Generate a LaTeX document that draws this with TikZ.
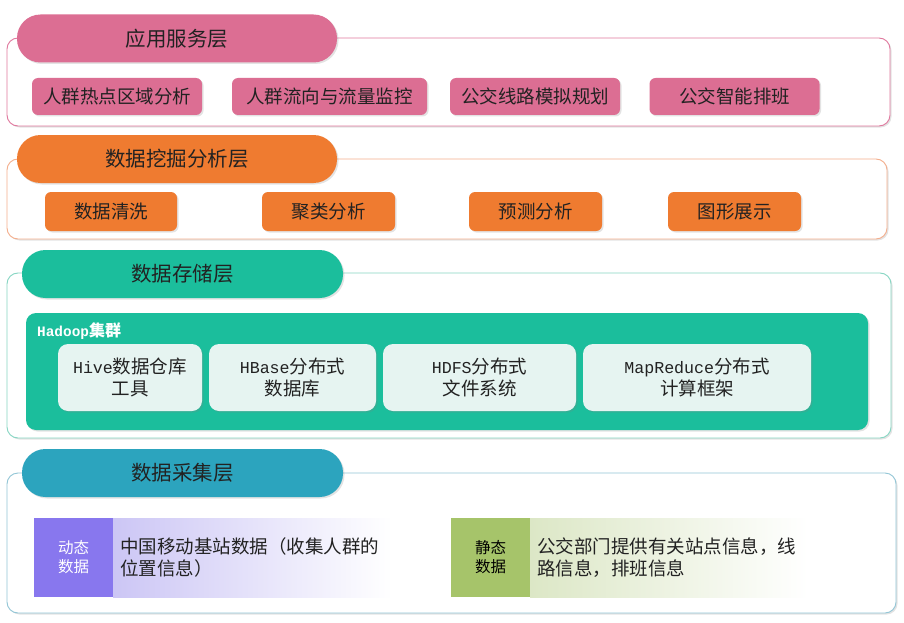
\documentclass[tikz,border=0pt]{standalone}
\usepackage{fontspec}
\setmainfont{Noto Sans CJK SC}
\newfontfamily\mono[Scale=0.9]{Liberation Mono}
\usetikzlibrary{shadows}
\definecolor{pinkc}{HTML}{DC6E93}
\definecolor{pinkb}{HTML}{E0789E}
\definecolor{orangec}{HTML}{EF7B30}
\definecolor{orangeb}{HTML}{F4AE8C}
\definecolor{tealc}{HTML}{1BBE9C}
\definecolor{tealb}{HTML}{86D6C3}
\definecolor{lightc}{HTML}{E6F4F1}
\definecolor{bluec}{HTML}{2CA4BE}
\definecolor{blueb}{HTML}{92C6D6}
\definecolor{purplec}{HTML}{8877EE}
\definecolor{purplel}{HTML}{CCC6F5}
\definecolor{greenc}{HTML}{A6C46A}
\definecolor{greenl}{HTML}{DCE7C6}
\definecolor{txt}{HTML}{222222}
\tikzset{
  myshadow/.style={drop shadow={shadow xshift=1.5pt,shadow yshift=-1.5pt,opacity=0.22,fill=gray}},
  outerbox/.style={draw, line width=0.9pt, fill=white, rounded corners=11pt, inner sep=0pt, myshadow},
  pillbox/.style={rounded corners=23.5pt, inner sep=0pt, minimum height=48pt, minimum width=320pt, text=txt, font=\fontsize{20.5}{24}\selectfont, myshadow},
  itembox/.style={rounded corners=6pt, inner sep=0pt, text=txt, font=\fontsize{18.5}{22}\selectfont, myshadow},
  innerbox/.style={fill=lightc, rounded corners=10pt, inner sep=0pt, minimum height=67pt, text=txt, align=center, font=\fontsize{18.5}{22}\selectfont, myshadow},
  tagbox/.style={inner sep=0pt, minimum width=79pt, minimum height=79pt, align=center, font=\fontsize{15.5}{19}\selectfont},
  gradbox/.style={inner xsep=7pt, inner ysep=0pt, minimum height=79pt, align=left, text=txt, font=\fontsize{18.5}{22}\selectfont},
}
\begin{document}
\begin{tikzpicture}[x=1pt,y=-1pt]
\useasboundingbox[fill=white] (0,0) rectangle (904,623);

% ---------- Layer 1 ----------
\node[outerbox, draw=pinkb, minimum width=883pt, minimum height=88pt] (o1) at (448.5,82) {};
\node[pillbox, fill=pinkc] (h1) at (177,38.5) {应用服务层};
\node[itembox, fill=pinkc, minimum width=170pt, minimum height=37pt] (a1) at (117,96.5) {人群热点区域分析};
\node[itembox, fill=pinkc, minimum width=195pt, minimum height=37pt] (a2) at (329.5,96.5) {人群流向与流量监控};
\node[itembox, fill=pinkc, minimum width=170pt, minimum height=37pt] (a3) at (535,96.5) {公交线路模拟规划};
\node[itembox, fill=pinkc, minimum width=170pt, minimum height=37pt] (a4) at (734.5,96.5) {公交智能排班};

% ---------- Layer 2 ----------
\node[outerbox, draw=orangeb, minimum width=880pt, minimum height=80pt] (o2) at (447,199) {};
\node[pillbox, fill=orangec] (h2) at (177,159) {数据挖掘分析层};
\node[itembox, fill=orangec, minimum width=132pt, minimum height=39pt] (b1) at (111,211.5) {数据清洗};
\node[itembox, fill=orangec, minimum width=133pt, minimum height=39pt] (b2) at (328.5,211.5) {聚类分析};
\node[itembox, fill=orangec, minimum width=133pt, minimum height=39pt] (b3) at (535.5,211.5) {预测分析};
\node[itembox, fill=orangec, minimum width=133pt, minimum height=39pt] (b4) at (734.5,211.5) {图形展示};

% ---------- Layer 3 ----------
\node[outerbox, draw=tealb, minimum width=884pt, minimum height=165pt] (o3) at (449,355.5) {};
\node[pillbox, fill=tealc, minimum width=321pt] (h3) at (182.5,274) {数据存储层};
\node[fill=tealc, rounded corners=10pt, inner sep=0pt, minimum width=842pt, minimum height=117pt, myshadow] (hd) at (447,371.5) {};
\node[anchor=west, inner sep=0pt, text=white, font=\fontsize{16}{19}\selectfont\bfseries] (hl) at (37,331) {{\mono Hadoop}集群};
\node[innerbox, minimum width=144pt] (c1) at (130,377.5) {{\mono Hive}数据仓库\\工具};
\node[innerbox, minimum width=167pt] (c2) at (292.5,377.5) {{\mono HBase}分布式\\数据库};
\node[innerbox, minimum width=193pt] (c3) at (479.5,377.5) {{\mono HDFS}分布式\\文件系统};
\node[innerbox, minimum width=228pt] (c4) at (697,377.5) {{\mono MapReduce}分布式\\计算框架};

% ---------- Layer 4 ----------
\node[outerbox, draw=blueb, minimum width=889pt, minimum height=140pt] (o4) at (451.5,543) {};
\node[pillbox, fill=bluec, minimum width=321pt] (h4) at (182.5,473) {数据采集层};
\node[tagbox, fill=purplec, text=white] (d1) at (73.5,557.5) {动态\\数据};
\node[gradbox, left color=purplel, right color=white, minimum width=279pt, text width=265pt] (d2) at (252.5,557.5) {中国移动基站数据（收集人群的\\位置信息）};
\node[tagbox, fill=greenc, text=black] (s1) at (490.5,557.5) {静态\\数据};
\node[gradbox, left color=greenl, right color=white, minimum width=278pt, text width=264pt] (s2) at (669,557.5) {公交部门提供有关站点信息，线\\路信息，排班信息};
\end{tikzpicture}
\end{document}
